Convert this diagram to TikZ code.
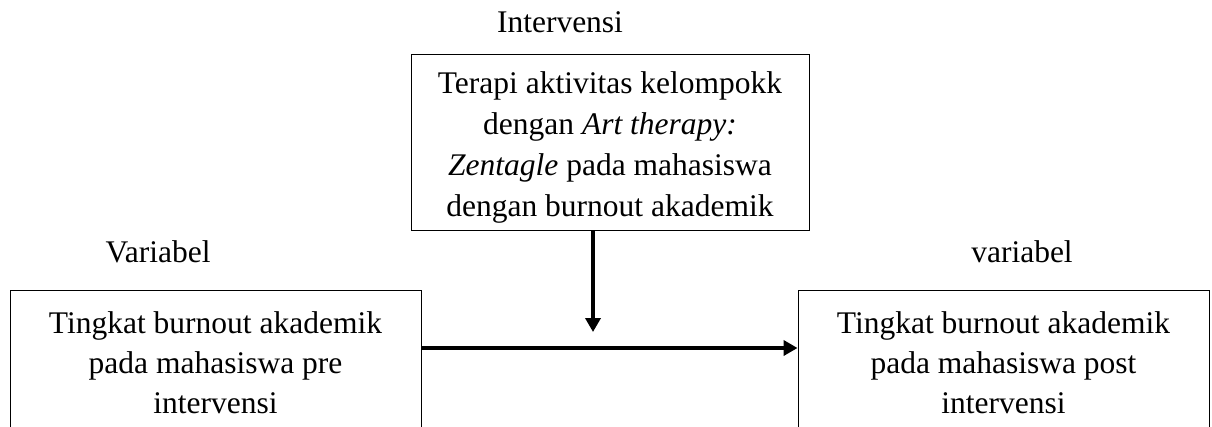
\documentclass[tikz,border=0pt]{standalone}
\usepackage{fontspec}
\setmainfont{Liberation Serif}
\usetikzlibrary{arrows.meta}
\begin{document}
\begin{tikzpicture}[x=1pt,y=-1pt,
  box/.style={draw, line width=0.9pt, align=center, inner sep=0pt, font=\fontsize{31.5}{40}\selectfont},
  lbl/.style={anchor=base, inner sep=0pt, font=\fontsize{31.5}{40}\selectfont},
  conn/.style={line width=3.6pt, -{Triangle[length=14pt,width=15pt]}}]
\useasboundingbox (0,0) rectangle (1212,426);
\node[box, minimum width=398pt, minimum height=176pt, font=\fontsize{31.5}{41}\selectfont] (top) at (610,142)
  {\rule{0pt}{32pt}Terapi aktivitas kelompokk\\dengan \textit{Art therapy:}\\\textit{Zentagle} pada mahasiswa\\dengan burnout akademik};
\node[box, minimum width=411pt, minimum height=146pt] (left) at (215.5,363)
  {Tingkat burnout akademik\\pada mahasiswa pre\\intervensi};
\node[box, minimum width=411pt, minimum height=146pt] (right) at (1003.5,363)
  {Tingkat burnout akademik\\pada mahasiswa post\\intervensi};
\node[lbl] (intv) at (560,32) {Intervensi};
\node[lbl] (varl) at (158,262) {Variabel};
\node[lbl] (varr) at (1022,262) {variabel};
\coordinate (tip) at (593,332);
\draw[conn] (top.south -| tip) -- (tip);
\draw[conn] (left.east |- 0,348) -- (right.west |- 0,348);
\end{tikzpicture}
\end{document}
